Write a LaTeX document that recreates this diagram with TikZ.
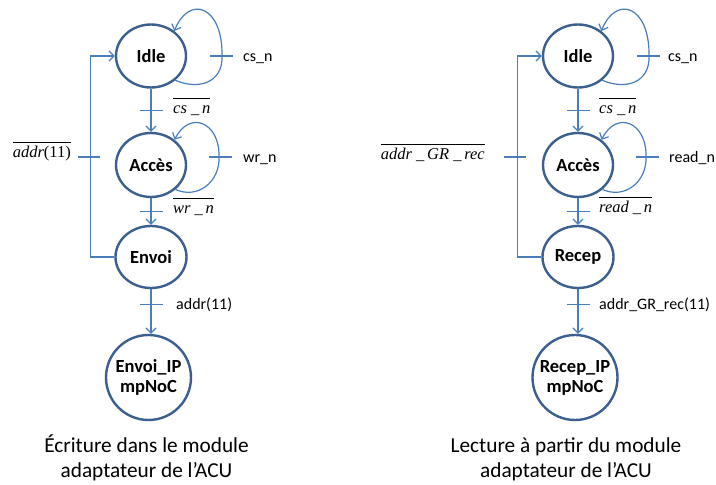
\documentclass[tikz,border=0pt]{standalone}
\usepackage{fontspec}
\setmainfont{Carlito}
\newfontfamily\tnr{Liberation Serif}
\usetikzlibrary{arrows.meta,shapes.geometric}
\definecolor{nodeblue}{HTML}{3B5F8E}
\definecolor{lineblue}{HTML}{4A7EBB}
\newcommand{\ovl}[1]{\ensuremath{\overline{\hbox{\tnr\rule{0pt}{14.5pt}#1}}}}
\begin{document}
\begin{tikzpicture}[x=1pt,y=1pt,
  state/.style={draw=nodeblue, line width=2.4pt, ellipse, minimum width=70pt, minimum height=63pt,
    inner sep=0pt, font=\fontsize{18.5}{20}\selectfont\bfseries, align=center},
  conn/.style={draw=lineblue, line width=1.2pt},
  arr/.style={conn, -{Straight Barb[length=5pt,width=10pt]}},
  lbl/.style={font=\fontsize{16}{18}\selectfont, anchor=base west, inner sep=0pt},
  olbl/.style={font=\fontsize{16.5}{18}\selectfont, anchor=base west, inner sep=0pt},
  captext/.style={font=\fontsize{21.3}{25}\selectfont, align=center, anchor=base, inner sep=0pt}]
\useasboundingbox (0,0) rectangle (716,485);
\fill[white] (0,0) rectangle (716,485);

% ---------------- left diagram ----------------
\node[state] (I1) at (151,429) {Idle};
\node[state, minimum height=64pt] (A1) at (151,320) {Accès};
\node[state, minimum width=71pt, minimum height=62pt] (E1) at (151,228) {Envoi};
\node[state, circle, minimum width=74pt, minimum height=85pt] (P1) at (148.5,107.5) {Envoi\_IP\\mpNoC};

\draw[arr] (I1.south) -- coordinate[pos=.5] (t1) (A1.north);
\draw[conn] ([xshift=-11.5pt]t1) -- ([xshift=11.5pt]t1);
\draw[arr] (A1.south) -- coordinate[pos=.5] (t2) (E1.north);
\draw[conn] ([xshift=-11.5pt]t2) -- ([xshift=11.5pt]t2);
\draw[arr] (E1.south) -- coordinate[pos=.34] (t3) (E1.south |- P1.north);
\draw[conn] ([xshift=-11.5pt]t3) -- ([xshift=11.5pt]t3);
\draw[arr] (E1.west) -- ++(-24,0) coordinate (k1) |- (I1.west);
\coordinate (t4) at ([yshift=100pt]k1);
\draw[conn] ([xshift=-12pt]t4) -- ([xshift=10pt]t4);

\draw[arr] (I1.-45) .. controls +(23,-10) and +(1,-27) .. ([shift={(71,0)}]I1.center) coordinate (r1)
  .. controls +(1,50) and +(15,37) .. (I1.47);
\draw[conn] ([xshift=-12pt]r1) -- ([xshift=11pt]r1);
\draw[arr] (A1.-45) .. controls +(22,-10) and +(1,-25) .. ([shift={(68,8)}]A1.center) coordinate (r2)
  .. controls +(1,35) and +(15,30) .. (A1.47);
\draw[conn] ([xshift=-10pt]r2) -- ([xshift=13pt]r2);

\node[olbl] (l1) at (173,371) {\ovl{\itshape cs\ \_\,n}};
\node[olbl] (l2) at (173,271) {\ovl{\itshape wr\ \_\,n}};
\node[olbl, anchor=base east] (l3) at (71,327) {\ovl{\itshape addr\upshape(11)}};
\node[lbl] (l4) at (243,423) {cs\_n};
\node[lbl] (l5) at (243,322) {wr\_n};
\node[lbl] (l6) at (176,175) {addr(11)};
\node[captext] (c1) at (146.5,7) {Écriture dans le module\\adaptateur de l’ACU};

% ---------------- right diagram ----------------
\node[state] (I2) at (578,429) {Idle};
\node[state, minimum height=64pt] (A2) at (578,320) {Accès};
\node[state, minimum width=71pt, minimum height=62pt] (E2) at (578,228) {Recep};
\node[state, circle, minimum width=77pt, minimum height=85pt] (P2) at (575,107.5) {Recep\_IP\\mpNoC};

\draw[arr] (I2.south) -- coordinate[pos=.5] (u1) (A2.north);
\draw[conn] ([xshift=-11.5pt]u1) -- ([xshift=11.5pt]u1);
\draw[arr] (A2.south) -- coordinate[pos=.5] (u2) (E2.north);
\draw[conn] ([xshift=-11.5pt]u2) -- ([xshift=11.5pt]u2);
\draw[arr] (E2.south) -- coordinate[pos=.34] (u3) (E2.south |- P2.north);
\draw[conn] ([xshift=-11.5pt]u3) -- ([xshift=11.5pt]u3);
\draw[arr] (E2.west) -- ++(-24,0) coordinate (k2) |- (I2.west);
\coordinate (u4) at ([yshift=100pt]k2);
\draw[conn] ([xshift=-13pt]u4) -- ([xshift=9pt]u4);

\draw[arr] (I2.-45) .. controls +(23,-10) and +(1,-27) .. ([shift={(71,0)}]I2.center) coordinate (s1)
  .. controls +(1,50) and +(15,37) .. (I2.47);
\draw[conn] ([xshift=-12pt]s1) -- ([xshift=11pt]s1);
\draw[arr] (A2.-45) .. controls +(22,-10) and +(1,-25) .. ([shift={(68,8)}]A2.center) coordinate (s2)
  .. controls +(1,35) and +(15,30) .. (A2.47);
\draw[conn] ([xshift=-10pt]s2) -- ([xshift=13pt]s2);

\node[olbl] (m1) at (599,371) {\ovl{\itshape cs\ \_\,n}};
\node[olbl] (m2) at (599,272) {\ovl{\itshape read\ \_\,n}};
\node[olbl, anchor=base east] (m3) at (485,325) {\ovl{\itshape addr\ \_\,GR\ \_\,rec}};
\node[lbl] (m4) at (668,423) {cs\_n};
\node[lbl] (m5) at (669,322) {read\_n};
\node[lbl] (m6) at (599,175) {addr\_GR\_rec(11)};
\node[captext] (c2) at (566,7) {Lecture à partir du module\\adaptateur de l’ACU};
\end{tikzpicture}
\end{document}
